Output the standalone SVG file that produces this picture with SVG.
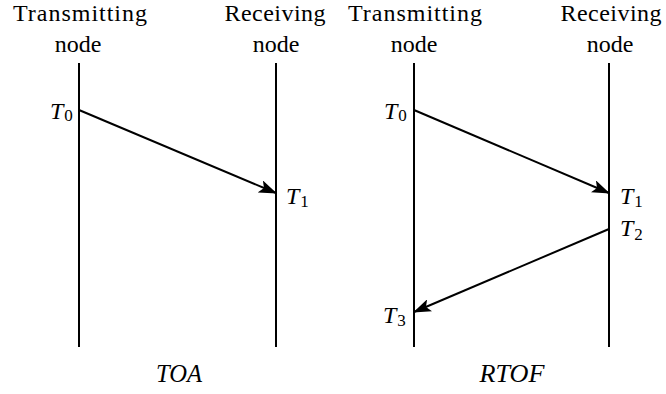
<svg xmlns="http://www.w3.org/2000/svg" width="666" height="394" viewBox="0 0 666 394">
<defs>
<marker id="ah" viewBox="0 0 18 13" refX="17" refY="6.5" markerWidth="18" markerHeight="13" markerUnits="userSpaceOnUse" orient="auto">
<path d="M0,0 L18,6.5 L0,13 L4,6.5 Z" fill="#000"/>
</marker>
</defs>
<g id="toa-transmitting">
<text font-family="Liberation Serif" font-size="24" text-anchor="middle" x="80" y="21" textLength="134" lengthAdjust="spacing">Transmitting</text>
<text font-family="Liberation Serif" font-size="24" text-anchor="middle" x="78" y="52">node</text>
<line x1="79" y1="63" x2="79" y2="347" stroke="#000" stroke-width="2"/>
</g>
<g id="toa-receiving">
<text font-family="Liberation Serif" font-size="24" text-anchor="middle" x="275" y="21" textLength="101" lengthAdjust="spacing">Receiving</text>
<text font-family="Liberation Serif" font-size="24" text-anchor="middle" x="276" y="52">node</text>
<line x1="276" y1="63" x2="276" y2="347" stroke="#000" stroke-width="2"/>
</g>
<g id="rtof-transmitting">
<text font-family="Liberation Serif" font-size="24" text-anchor="middle" x="415" y="21" textLength="134" lengthAdjust="spacing">Transmitting</text>
<text font-family="Liberation Serif" font-size="24" text-anchor="middle" x="414" y="52">node</text>
<line x1="414" y1="63" x2="414" y2="347" stroke="#000" stroke-width="2"/>
</g>
<g id="rtof-receiving">
<text font-family="Liberation Serif" font-size="24" text-anchor="middle" x="611" y="21" textLength="101" lengthAdjust="spacing">Receiving</text>
<text font-family="Liberation Serif" font-size="24" text-anchor="middle" x="610" y="52">node</text>
<line x1="609" y1="63" x2="609" y2="347" stroke="#000" stroke-width="2"/>
</g>
<g id="labels">
<text font-family="Liberation Serif" font-size="24" font-style="italic" x="50" y="119">T<tspan font-size="17" font-style="normal" dx="1" dy="2">0</tspan></text>
<text font-family="Liberation Serif" font-size="24" font-style="italic" x="286" y="204">T<tspan font-size="17" font-style="normal" dx="1" dy="3">1</tspan></text>
<text font-family="Liberation Serif" font-size="24" font-style="italic" x="620" y="236">T<tspan font-size="17" font-style="normal" dx="1" dy="4">2</tspan></text>
<text font-family="Liberation Serif" font-size="24" font-style="italic" x="384" y="119">T<tspan font-size="17" font-style="normal" dx="1" dy="2">0</tspan></text>
<text font-family="Liberation Serif" font-size="24" font-style="italic" x="620" y="204">T<tspan font-size="17" font-style="normal" dx="1" dy="3">1</tspan></text>
<text font-family="Liberation Serif" font-size="24" font-style="italic" x="383" y="323">T<tspan font-size="17" font-style="normal" dx="1" dy="3">3</tspan></text>
<text font-family="Liberation Serif" font-size="26" font-style="italic" text-anchor="middle" x="179" y="382" textLength="46" lengthAdjust="spacingAndGlyphs">TOA</text>
<text font-family="Liberation Serif" font-size="26" font-style="italic" text-anchor="middle" x="512" y="382" textLength="65" lengthAdjust="spacingAndGlyphs">RTOF</text>
</g>
<g id="connectors" stroke="#000" stroke-width="2" fill="none">
<line x1="79" y1="110" x2="276" y2="193" marker-end="url(#ah)"/>
<line x1="414" y1="110" x2="609" y2="193" marker-end="url(#ah)"/>
<line x1="609" y1="229" x2="414" y2="312" marker-end="url(#ah)"/>
</g>
</svg>
